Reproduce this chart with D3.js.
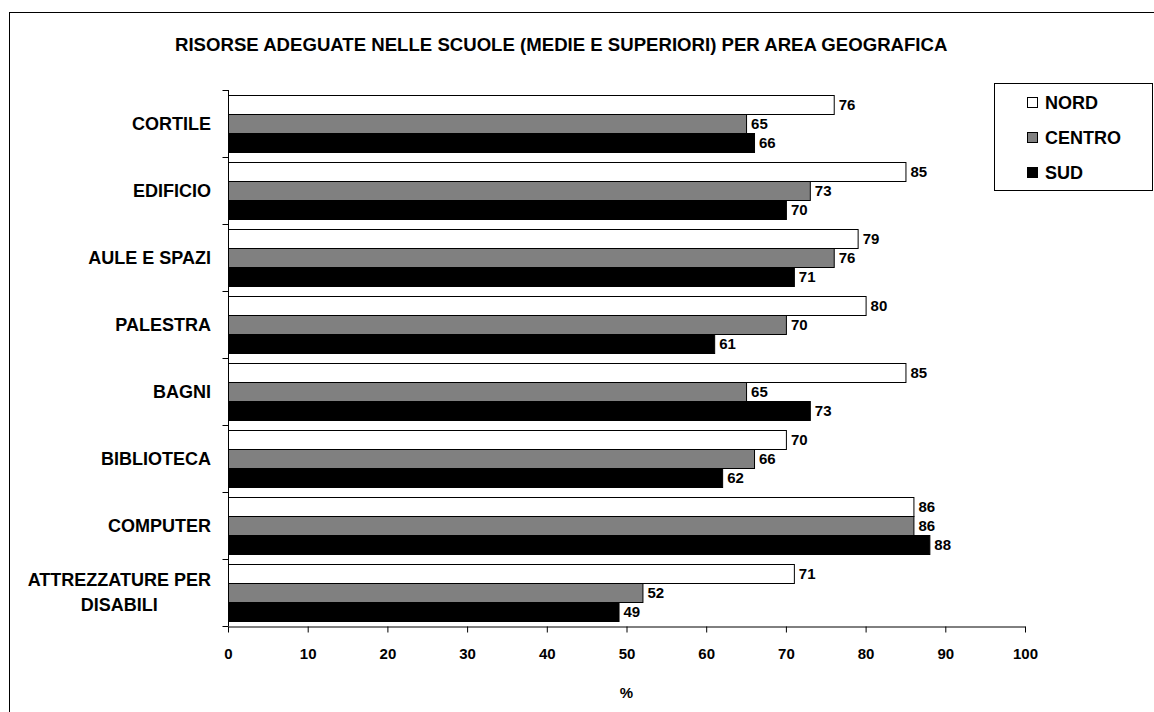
<!DOCTYPE html>
<html>
<head>
<meta charset="utf-8">
<script src="https://cdn.jsdelivr.net/npm/d3@7"></script>
<style>
  html, body { margin: 0; padding: 0; background: #fff; }
  svg { display: block; }
  text { font-family: "Liberation Sans", Arial, sans-serif; font-weight: bold; fill: #000; }
</style>
</head>
<body>
<svg id="chart" width="1154" height="712"></svg>
<script>
const title = "RISORSE ADEGUATE NELLE SCUOLE (MEDIE E SUPERIORI) PER AREA GEOGRAFICA";
const categories = ["CORTILE", "EDIFICIO", "AULE E SPAZI", "PALESTRA", "BAGNI", "BIBLIOTECA", "COMPUTER", "ATTREZZATURE PER DISABILI"];
const seriesNames = ["NORD", "CENTRO", "SUD"];
const nord   = [76, 85, 79, 80, 85, 70, 86, 71];
const centro = [65, 73, 76, 70, 65, 66, 86, 52];
const sud    = [66, 70, 71, 61, 73, 62, 88, 49];
const seriesValues = [nord, centro, sud];
const seriesColors = ["#ffffff", "#808080", "#000000"];
const xTicks = [0, 10, 20, 30, 40, 50, 60, 70, 80, 90, 100];
const xTitle = "%";

const svg = d3.select("#chart");

// outer frame (right/bottom edges fall outside the picture)
svg.append("rect").attr("x", 9.5).attr("y", 12.5).attr("width", 1300).attr("height", 900)
  .attr("fill", "none").attr("stroke", "#000").attr("stroke-width", 1);

const x = d3.scaleLinear().domain([0, 100]).range([228, 1025]);
const y = d3.scaleBand().domain(categories).range([90, 626]).paddingInner(0).paddingOuter(0);
const blockPad = 0.072;
const yInner = d3.scaleBand().domain(seriesNames)
  .range([y.bandwidth() * blockPad, y.bandwidth() * (1 - blockPad)]);

// title
svg.append("text").attr("x", 175).attr("y", 50.5)
  .attr("font-size", "18.6px").attr("text-anchor", "start").text(title);

// bars
const rows = [];
categories.forEach((c, i) => {
  seriesNames.forEach((s, j) => rows.push({ cat: c, ser: s, val: seriesValues[j][i], color: seriesColors[j] }));
});

const g = svg.append("g");
g.selectAll("rect.bar").data(rows).join("rect")
  .attr("class", "bar")
  .attr("x", x(0) + 0.5)
  .attr("y", d => Math.round(y(d.cat) + yInner(d.ser)) + 0.5)
  .attr("width", d => x(d.val) - x(0))
  .attr("height", d => Math.round(yInner.bandwidth()))
  .attr("fill", d => d.color)
  .attr("stroke", "#000").attr("stroke-width", 1);

g.selectAll("text.val").data(rows).join("text")
  .attr("class", "val")
  .attr("x", d => x(d.val) + 5)
  .attr("y", d => y(d.cat) + yInner(d.ser) + yInner.bandwidth() / 2 + 5.3)
  .attr("font-size", "15px")
  .text(d => d.val);

// x axis
const xAxis = svg.append("g").attr("transform", "translate(0,626.5)")
  .call(d3.axisBottom(x).tickValues(xTicks).tickSize(6).tickSizeOuter(0).tickPadding(16));
xAxis.select(".domain").attr("stroke", "#000");
xAxis.selectAll(".tick line").attr("stroke", "#000");
xAxis.selectAll(".tick text").attr("font-size", "15px").attr("font-family", "Liberation Sans, Arial, sans-serif").attr("font-weight", "bold").attr("fill", "#000");

svg.append("text").attr("x", (x(0) + x(100)) / 2).attr("y", 697.5)
  .attr("text-anchor", "middle").attr("font-size", "15px").text(xTitle);

// y axis
const yAxisG = svg.append("g").attr("transform", "translate(228.5,0)");
yAxisG.append("line").attr("x1", 0).attr("x2", 0).attr("y1", y.range()[0]).attr("y2", y.range()[1]).attr("stroke", "#000");
const bounds = categories.map(c => y(c)).concat([y.range()[1]]);
yAxisG.selectAll("line.tk").data(bounds).join("line").attr("class", "tk")
  .attr("x1", -6).attr("x2", 0)
  .attr("y1", d => Math.round(d) + 0.5).attr("y2", d => Math.round(d) + 0.5)
  .attr("stroke", "#000");

// category labels with wrapping
const labelFont = "18px";
const measure = svg.append("text").attr("font-size", labelFont).attr("visibility", "hidden");
function wrap(str, maxW) {
  const words = str.split(" ");
  const lines = [];
  let cur = "";
  words.forEach(w => {
    const t = cur ? cur + " " + w : w;
    measure.text(t);
    if (measure.node().getComputedTextLength() > maxW && cur) { lines.push(cur); cur = w; }
    else cur = t;
  });
  if (cur) lines.push(cur);
  return lines;
}
categories.forEach(c => {
  const lines = wrap(c, 200);
  const cy = y(c) + y.bandwidth() / 2;
  const lh = 25;
  const t = svg.append("text").attr("font-size", labelFont).attr("text-anchor", "middle");
  // measure widest line to center the block, right-aligned at 211
  let maxW = 0;
  lines.forEach(l => { measure.text(l); maxW = Math.max(maxW, measure.node().getComputedTextLength()); });
  const cx = 211 - maxW / 2;
  lines.forEach((l, k) => {
    t.append("tspan").attr("x", cx)
      .attr("y", cy + (k - (lines.length - 1) / 2) * lh + 6.3)
      .text(l);
  });
});
measure.remove();

// legend
const lg = svg.append("g");
lg.append("rect").attr("x", 994.5).attr("y", 83.5).attr("width", 158).attr("height", 107)
  .attr("fill", "#fff").attr("stroke", "#000").attr("stroke-width", 1);
const legendY = d3.scalePoint().domain(seriesNames).range([102, 172]);
seriesNames.forEach((s, j) => {
  const cy = legendY(s);
  lg.append("rect").attr("x", 1027.5).attr("y", Math.round(cy - 5.5) + 0.5).attr("width", 10).attr("height", 10)
    .attr("fill", seriesColors[j]).attr("stroke", "#000").attr("stroke-width", 1);
  lg.append("text").attr("x", 1045).attr("y", cy + 6.5).attr("font-size", "18px").text(s);
});
</script>
</body>
</html>
